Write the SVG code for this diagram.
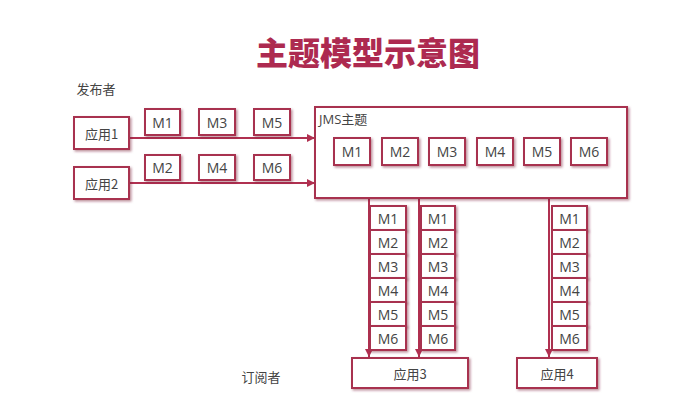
<svg xmlns="http://www.w3.org/2000/svg" width="689" height="400" viewBox="0 0 689 400">
<style>
.box{fill:#fff;stroke:#a8304f;stroke-width:2;filter:url(#sh)}
.m{font-family:"Open Sans","Noto Sans",sans-serif;font-size:14px;fill:#444;text-anchor:middle;dominant-baseline:central}
.c{font-family:"Noto Sans CJK SC",sans-serif;font-size:13px;fill:#444;text-anchor:middle;dominant-baseline:central}
.ln{stroke:#b03050;stroke-width:2;fill:none;marker-end:url(#ah)}
</style>
<defs>
<filter id="sh" x="-20%" y="-20%" width="140%" height="140%"><feDropShadow dx="1.5" dy="1.5" stdDeviation="0.8" flood-color="#7a1f38" flood-opacity="0.5"/></filter>
<marker id="ah" viewBox="0 0 10 10" refX="10" refY="5" markerWidth="4" markerHeight="4" orient="auto"><path d="M0,0L10,5L0,10z" fill="#b03050"/></marker>
</defs>
<text x="368" y="51" font-family="Noto Sans CJK SC,sans-serif" font-size="32" font-weight="900" fill="#ad2a50" text-anchor="middle" dominant-baseline="central">主题模型示意图</text>
<text x="96" y="88" class="c">发布者</text>
<text x="261" y="376" class="c">订阅者</text>
<g id="connectors">
<line class="ln" x1="129" y1="138" x2="315" y2="138"/>
<line class="ln" x1="129" y1="183" x2="315" y2="183"/>
<line class="ln" x1="369" y1="198" x2="369" y2="357"/>
<line class="ln" x1="419" y1="198" x2="419" y2="357"/>
<line class="ln" x1="549" y1="198" x2="549" y2="357"/>
</g>
<g id="app1"><rect class="box" x="74" y="117" width="55" height="32"/><text x="101.5" y="133" class="c">应用1</text></g>
<g id="app2"><rect class="box" x="74" y="167" width="55" height="32"/><text x="101.5" y="183" class="c">应用2</text></g>
<g id="pub-msgs">
<rect class="box" x="145" y="109" width="35" height="26"/><text x="162.5" y="122" class="m">M1</text>
<rect class="box" x="199" y="109" width="36" height="26"/><text x="217" y="122" class="m">M3</text>
<rect class="box" x="254" y="109" width="36" height="26"/><text x="272" y="122" class="m">M5</text>
<rect class="box" x="145" y="155" width="35" height="25"/><text x="162.5" y="167.5" class="m">M2</text>
<rect class="box" x="199" y="155" width="36" height="25"/><text x="217" y="167.5" class="m">M4</text>
<rect class="box" x="254" y="155" width="36" height="25"/><text x="272" y="167.5" class="m">M6</text>
</g>
<g id="jms">
<rect class="box" x="315" y="107" width="312" height="91"/>
<text x="319" y="119" font-family="Open Sans,Noto Sans CJK SC,sans-serif" font-size="13" fill="#444" dominant-baseline="central">JMS主题</text>
<rect class="box" x="334" y="138" width="36" height="27"/><text x="352" y="151.5" class="m">M1</text>
<rect class="box" x="382" y="138" width="36" height="27"/><text x="400" y="151.5" class="m">M2</text>
<rect class="box" x="429" y="138" width="36" height="27"/><text x="447" y="151.5" class="m">M3</text>
<rect class="box" x="477" y="138" width="36" height="27"/><text x="495" y="151.5" class="m">M4</text>
<rect class="box" x="524" y="138" width="36" height="27"/><text x="542" y="151.5" class="m">M5</text>
<rect class="box" x="571" y="138" width="36" height="27"/><text x="589" y="151.5" class="m">M6</text>
</g>
<g id="queue1">
<rect class="box" x="370" y="206" width="36" height="24"/><text x="388" y="218" class="m">M1</text>
<rect class="box" x="370" y="230" width="36" height="24"/><text x="388" y="242" class="m">M2</text>
<rect class="box" x="370" y="254" width="36" height="24"/><text x="388" y="266" class="m">M3</text>
<rect class="box" x="370" y="278" width="36" height="24"/><text x="388" y="290" class="m">M4</text>
<rect class="box" x="370" y="302" width="36" height="24"/><text x="388" y="314" class="m">M5</text>
<rect class="box" x="370" y="326" width="36" height="24"/><text x="388" y="338" class="m">M6</text>
</g>
<g id="queue2">
<rect class="box" x="421" y="206" width="34" height="24"/><text x="438" y="218" class="m">M1</text>
<rect class="box" x="421" y="230" width="34" height="24"/><text x="438" y="242" class="m">M2</text>
<rect class="box" x="421" y="254" width="34" height="24"/><text x="438" y="266" class="m">M3</text>
<rect class="box" x="421" y="278" width="34" height="24"/><text x="438" y="290" class="m">M4</text>
<rect class="box" x="421" y="302" width="34" height="24"/><text x="438" y="314" class="m">M5</text>
<rect class="box" x="421" y="326" width="34" height="24"/><text x="438" y="338" class="m">M6</text>
</g>
<g id="queue3">
<rect class="box" x="552" y="206" width="35" height="24"/><text x="569.5" y="218" class="m">M1</text>
<rect class="box" x="552" y="230" width="35" height="24"/><text x="569.5" y="242" class="m">M2</text>
<rect class="box" x="552" y="254" width="35" height="24"/><text x="569.5" y="266" class="m">M3</text>
<rect class="box" x="552" y="278" width="35" height="24"/><text x="569.5" y="290" class="m">M4</text>
<rect class="box" x="552" y="302" width="35" height="24"/><text x="569.5" y="314" class="m">M5</text>
<rect class="box" x="552" y="326" width="35" height="24"/><text x="569.5" y="338" class="m">M6</text>
</g>
<g id="app3"><rect class="box" x="352" y="358" width="116" height="30"/><text x="410" y="373" class="c">应用3</text></g>
<g id="app4"><rect class="box" x="517" y="358" width="80" height="30"/><text x="557" y="373" class="c">应用4</text></g>
</svg>
